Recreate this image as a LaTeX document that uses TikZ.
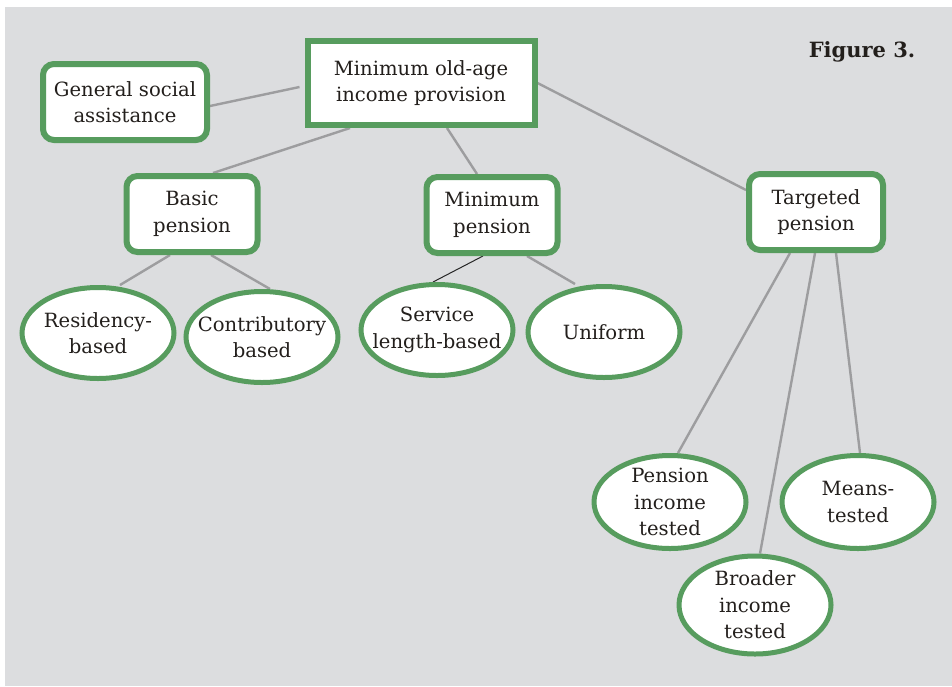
\documentclass[tikz,border=0pt]{standalone}
\usepackage{fontspec}
\setmainfont{DejaVu Serif}
\usepackage{xcolor}
\usepackage{tikz}
\usetikzlibrary{shapes.geometric, positioning, backgrounds}

\definecolor{panelgray}{HTML}{DCDDDF}
\definecolor{boxgreen}{HTML}{579C5E}
\definecolor{linkgray}{HTML}{9D9D9F}
\definecolor{textdark}{HTML}{231F1C}

\begin{document}
\begin{tikzpicture}[x=1pt, y=-1pt,
    every node/.style={text=textdark, font=\fontsize{19.6}{26.5}\selectfont, align=center},
    topbox/.style={rectangle, draw=boxgreen, fill=white, line width=6pt, minimum width=227pt, minimum height=84pt, inner sep=2pt},
    subbox/.style={rectangle, rounded corners=11pt, draw=boxgreen, fill=white, line width=6pt, minimum height=76pt, inner sep=2pt},
    leaf/.style={ellipse, draw=boxgreen, fill=white, line width=5pt, minimum width=152pt, minimum height=91pt, inner xsep=-12pt, inner ysep=-10pt},
    link/.style={draw=linkgray, line width=2.4pt}]
    %\draw[step=50, very thin] (0,0) grid (952,686);

    \useasboundingbox (0,0) rectangle (952,686);

    \node[topbox] (main) at (421, 83) {Minimum old-age\\income provision};

    \node[subbox, minimum width=164pt] (general) at (125, 102) {General social\\assistance};
    \node[subbox, minimum width=131pt] (basic) at (192, 214) {Basic\\pension};
    \node[subbox, minimum width=131pt] (minimum) at (492, 215) {Minimum\\pension};
    \node[subbox, minimum width=134pt] (targeted) at (816, 212) {Targeted\\pension};

    \node[font=\fontsize{21}{26.5}\selectfont\bfseries] (title) at (862, 52) {Figure 3.};

    \node[leaf] (residency) at (98, 333) {Residency-\\based};
    \node[leaf] (contrib) at (262, 337) {Contributory\\based};
    \node[leaf] (service) at (437, 330) {Service\\length-based};
    \node[leaf] (uniform) at (604, 332) {Uniform};

    \node[leaf, minimum height=93pt] (pension) at (670, 502) {Pension\\income\\tested};
    \node[leaf, minimum height=93pt] (means) at (858, 502) {Means-\\tested};
    \node[leaf, minimum height=98pt] (broader) at (755, 605) {Broader\\income\\tested};

    \begin{scope}[on background layer]
      \fill[white] (0,0) rectangle (952,686);
      \fill[panelgray] (5,7) rectangle (952,686);

      \draw[link] ([yshift=-4pt]general.east) -- ([xshift=-5pt, yshift=-4pt]main.west);
      \draw[link] ([xshift=-71pt]main.south) -- ([xshift=21pt]basic.north);
      \draw[link] ([xshift=26pt]main.south) -- ([xshift=-15pt]minimum.north);
      \draw[link] (main.east) -- ([yshift=22pt]targeted.west);

      \draw[link] ([xshift=-22pt]basic.south) -- ([xshift=22pt]residency.north);
      \draw[link] ([xshift=19pt]basic.south) -- ([xshift=8pt]contrib.north);

      \draw[draw=black!85, line width=1pt] ([xshift=-9pt]minimum.south) -- ([xshift=-4pt]service.north);
      \draw[link] ([xshift=35pt]minimum.south) -- ([xshift=-29pt]uniform.north);

      \draw[link] ([xshift=-26pt]targeted.south) -- ([xshift=8pt]pension.north);
      \draw[link] ([xshift=-1pt]targeted.south) -- ([xshift=5pt]broader.north);
      \draw[link] ([xshift=20pt]targeted.south) -- ([xshift=2pt]means.north);
    \end{scope}

\end{tikzpicture}
\end{document}
